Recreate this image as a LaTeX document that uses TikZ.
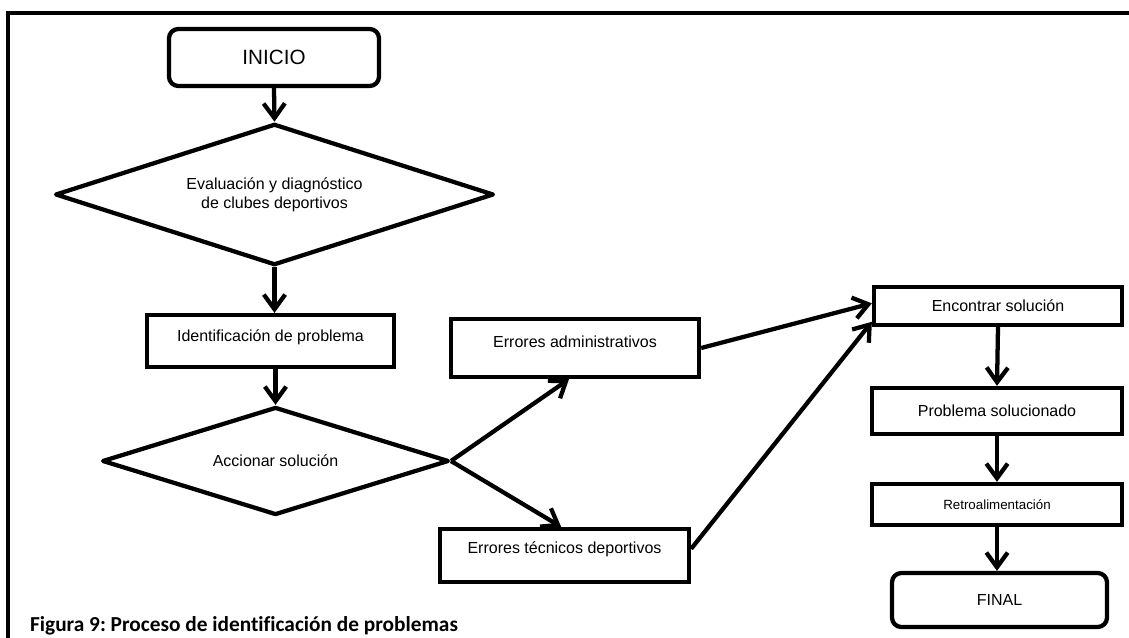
\documentclass[tikz,border=0pt]{standalone}
\usepackage{fontspec}
\setmainfont{Liberation Sans}
\newfontfamily\capfont[Ligatures=NoCommon]{Carlito}
\usetikzlibrary{shapes.geometric,arrows.meta}
\frenchspacing

\begin{document}
\begin{tikzpicture}[x=0.75pt,y=-0.75pt,line width=3.2pt,
  >={Straight Barb[length=11pt,width=16pt]},
  box/.style={draw,rectangle,inner sep=0pt,align=center,font=\fontsize{12}{14}\selectfont},
  term/.style={box,rounded corners=7pt},
  decide/.style={draw,diamond,aspect=3,inner sep=0pt,line join=round,align=center,font=\fontsize{12}{14}\selectfont}]
\useasboundingbox (0,0) rectangle (1129,638);
% marco
\draw (8,645) -- (8,13) -- (1135,13);
% columna izquierda
\node[term,minimum width=157.5pt,minimum height=42.75pt,font=\fontsize{15.5}{18}\selectfont] (inicio) at (274,57.5) {INICIO};
\node[decide,minimum width=329pt,minimum height=106pt] (eval) at (274.5,194.5) {Evaluación y diagnóstico\\de clubes deportivos};
\node[box,minimum width=185.25pt,minimum height=39pt,text depth=8.5pt] (ident) at (270.5,341) {Identificación de problema};
\node[decide,minimum width=260pt,minimum height=81pt] (accion) at (275.5,461) {Accionar solución};
% errores
\node[box,minimum width=186pt,minimum height=43.5pt,text depth=10pt] (admin) at (575,348) {Errores administrativos};
\node[box,minimum width=186.75pt,minimum height=39.75pt,text depth=12pt] (tecnico) at (564.5,555.5) {Errores técnicos deportivos};
% columna derecha
\node[box,minimum width=186pt,minimum height=28.5pt] (encontrar) at (998,306) {Encontrar solución};
\node[box,minimum width=187.5pt,minimum height=34.5pt] (problema) at (997,411) {Problema solucionado};
\node[box,minimum width=187.5pt,minimum height=30.75pt,font=\fontsize{10}{12}\selectfont] (retro) at (997,504.5) {Retroalimentación};
\node[term,minimum width=161.25pt,minimum height=40.5pt] (final) at (999.5,600) {FINAL};
\node[anchor=base west,inner sep=0pt,font=\capfont\bfseries\fontsize{16}{19}\selectfont] (caption) at (28,631) {Figura 9: Proceso de identificación de problemas};
\draw[->] (inicio.south) -- (eval.north);
\draw[->] (eval.south) -- (eval.south |- ident.north);
\draw[->] (accion.north |- ident.south) -- (accion.north);
\draw[->] (accion.east) -- ([xshift=-4.5pt]admin.south);
\draw[->] (accion.east) -- ([xshift=-2.5pt]tecnico.north);
\draw[->] (admin.east) -- ([yshift=2pt]encontrar.west);
\draw[->] ([yshift=5pt]tecnico.east) -- ([yshift=4pt]encontrar.south west);
\draw[->] (encontrar.south) -- (problema.north);
\draw[->] (problema.south) -- (retro.north);
\draw[->] (retro.south) -- (retro.south |- final.north);
\end{tikzpicture}
\end{document}
